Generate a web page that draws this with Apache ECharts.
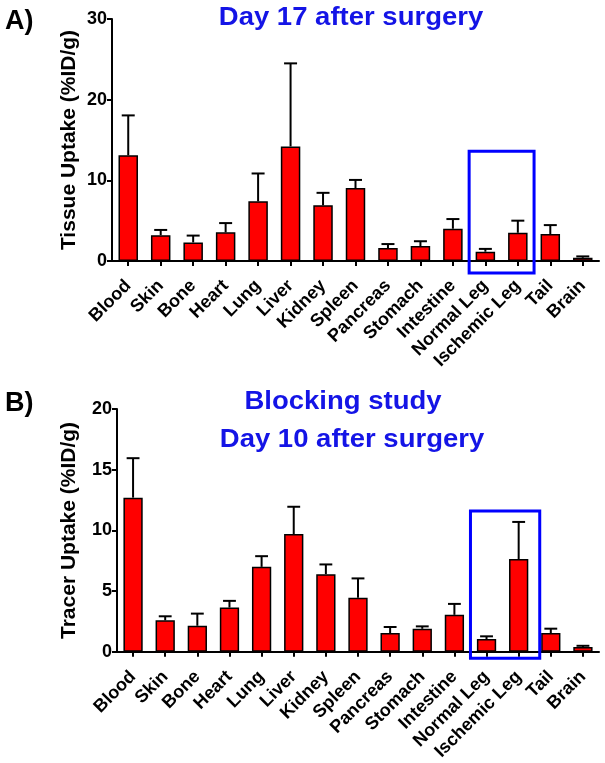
<!DOCTYPE html>
<html>
<head>
<meta charset="utf-8">
<script src="https://cdn.jsdelivr.net/npm/echarts@6/dist/echarts.min.js"></script>
<style>
html,body{margin:0;padding:0;background:#fff;}
#chart{width:605px;height:763px;}
</style>
</head>
<body>
<div id="chart"></div>
<script>
// ---- data ----
const categories = ['Blood','Skin','Bone','Heart','Lung','Liver','Kidney','Spleen','Pancreas','Stomach','Intestine','Normal Leg','Ischemic Leg','Tail','Brain'];
// Panel A: Day 17 after surgery (mean and SD, %ID/g)
const uptakeDay17 = [13.1, 3.2, 2.3, 3.55, 7.4, 14.2, 6.9, 9.05, 1.6, 1.85, 4.0, 1.15, 3.5, 3.35, 0.4];
const sdDay17     = [4.95, 0.65, 0.85, 1.15, 3.45, 10.3, 1.55, 1.0, 0.5, 0.6, 1.2, 0.35, 1.5, 1.1, 0.17];
// Panel B: Blocking study, Day 10 after surgery
const uptakeBlocking = [12.7, 2.6, 2.15, 3.65, 7.0, 9.7, 6.4, 4.45, 1.55, 1.9, 3.05, 1.05, 7.65, 1.55, 0.4];
const sdBlocking     = [3.25, 0.33, 1.0, 0.55, 0.88, 2.25, 0.8, 1.6, 0.5, 0.2, 0.9, 0.23, 3.05, 0.36, 0.1];
// axis ticks
const yTicksA = [0, 10, 20, 30];
const yTicksB = [0, 5, 10, 15, 20];
// highlighted region (category span and value span)
const highlightCats = ['Normal Leg', 'Ischemic Leg'];
const highlightA = [13.6, -1.5];
const highlightB = [11.6, -0.52];
// texts
const panelLabels = ['A)', 'B)'];
const titleA = 'Day 17 after surgery';
const titleB = ['Blocking study', 'Day 10 after surgery'];

const FONT = "'Liberation Sans', Arial, Helvetica, sans-serif";
const BLUE = '#1414e6';

const chart = echarts.init(document.getElementById('chart'), null, {renderer: 'canvas'});

function errRender(params, api) {
  const x = api.value(0), m = api.value(1), sd = api.value(2);
  const base = api.coord([x, m]);
  const top = api.coord([x, m + sd]);
  const bw = api.size([1, 0])[0];
  const cap = bw * 0.2;
  return {
    type: 'group',
    children: [
      {type: 'line', shape: {x1: base[0], y1: base[1], x2: top[0], y2: top[1]}, style: {stroke: '#000', lineWidth: 2}},
      {type: 'line', shape: {x1: top[0] - cap, y1: top[1], x2: top[0] + cap, y2: top[1]}, style: {stroke: '#000', lineWidth: 2}}
    ]
  };
}
function boxRender(extraRight) {
  return function (params, api) {
    const i0 = api.value(0), i1 = api.value(1), t = api.value(2), b = api.value(3);
    const bw = api.size([1, 0])[0];
    const p0 = api.coord([i0, t]);
    const p1 = api.coord([i1, b]);
    const x0 = p0[0] - bw / 2, x1 = p1[0] + bw / 2 + extraRight;
    return {
      type: 'rect',
      shape: {x: x0, y: p0[1], width: x1 - x0, height: p1[1] - p0[1]},
      style: {fill: 'none', stroke: '#0000ff', lineWidth: 3},
      z2: 50
    };
  };
}

function xAxisCfg(gi) {
  return {
    type: 'category', gridIndex: gi, data: categories,
    axisLine: {show: true, lineStyle: {color: '#000', width: 2}},
    axisTick: {show: true, alignWithLabel: true, length: 5, lineStyle: {color: '#000', width: 2}},
    axisLabel: {rotate: 45, margin: 22, color: '#000', fontFamily: FONT, fontWeight: 'bold', fontSize: 18, interval: 0},
    splitLine: {show: false}
  };
}
function yAxisCfg(gi, ticks, name, gap) {
  return {
    type: 'value', gridIndex: gi, min: ticks[0], max: ticks[ticks.length - 1], interval: ticks[1] - ticks[0],
    name: name, nameLocation: 'middle', nameGap: gap, nameRotate: 90, nameMoveOverlap: false,
    nameTextStyle: {color: '#000', fontFamily: FONT, fontWeight: 'bold', fontSize: 21},
    axisLine: {show: true, lineStyle: {color: '#000', width: 2}},
    axisTick: {show: true, length: 5, lineStyle: {color: '#000', width: 2}},
    axisLabel: {margin: 5, color: '#000', fontFamily: FONT, fontWeight: 'bold', fontSize: 18},
    splitLine: {show: false}
  };
}
function txt(text, x, y, size, color, align, sx) {
  return {
    type: 'text', x: x, y: y, scaleX: sx || 1, z: 100,
    style: {text: text, fill: color, font: 'bold ' + size + 'px ' + FONT, textAlign: align, textVerticalAlign: 'middle'}
  };
}

const hi0 = categories.indexOf(highlightCats[0]);
const hi1 = categories.indexOf(highlightCats[1]);

chart.setOption({
  animation: false,
  backgroundColor: '#fff',
  graphic: [
    txt(panelLabels[0], 5, 22, 27, '#000', 'left', 1),
    txt(titleA, 351, 18, 25, BLUE, 'center', 1.1),
    txt(panelLabels[1], 5, 404, 27, '#000', 'left', 1),
    txt(titleB[0], 343, 402, 25, BLUE, 'center', 1.1),
    txt(titleB[1], 352, 440, 25, BLUE, 'center', 1.1)
  ],
  grid: [
    {left: 112, right: 6, top: 19, height: 242},
    {left: 117, right: 6, top: 409, height: 243}
  ],
  xAxis: [xAxisCfg(0), xAxisCfg(1)],
  yAxis: [
    yAxisCfg(0, yTicksA, 'Tissue Uptake (%ID/g)', 32),
    yAxisCfg(1, yTicksB, 'Tracer Uptake (%ID/g)', 37)
  ],
  series: [
    {type: 'custom', xAxisIndex: 0, yAxisIndex: 0, z: 1, renderItem: errRender, encode: {x: 0, y: 1},
     data: categories.map((c, i) => [i, uptakeDay17[i], sdDay17[i]])},
    {type: 'bar', xAxisIndex: 0, yAxisIndex: 0, z: 2, barWidth: '60%', data: uptakeDay17,
     itemStyle: {color: '#ff0000', borderColor: '#000', borderWidth: 1.5}},
    {type: 'custom', xAxisIndex: 0, yAxisIndex: 0, z: 5, clip: false, renderItem: boxRender(0), encode: {x: 0, y: 2},
     data: [[hi0, hi1, highlightA[0], highlightA[1]]]},

    {type: 'custom', xAxisIndex: 1, yAxisIndex: 1, z: 1, renderItem: errRender, encode: {x: 0, y: 1},
     data: categories.map((c, i) => [i, uptakeBlocking[i], sdBlocking[i]])},
    {type: 'bar', xAxisIndex: 1, yAxisIndex: 1, z: 2, barWidth: '60%', data: uptakeBlocking,
     itemStyle: {color: '#ff0000', borderColor: '#000', borderWidth: 1.5}},
    {type: 'custom', xAxisIndex: 1, yAxisIndex: 1, z: 5, clip: false, renderItem: boxRender(5), encode: {x: 0, y: 2},
     data: [[hi0, hi1, highlightB[0], highlightB[1]]]}
  ]
});
</script>
</body>
</html>
